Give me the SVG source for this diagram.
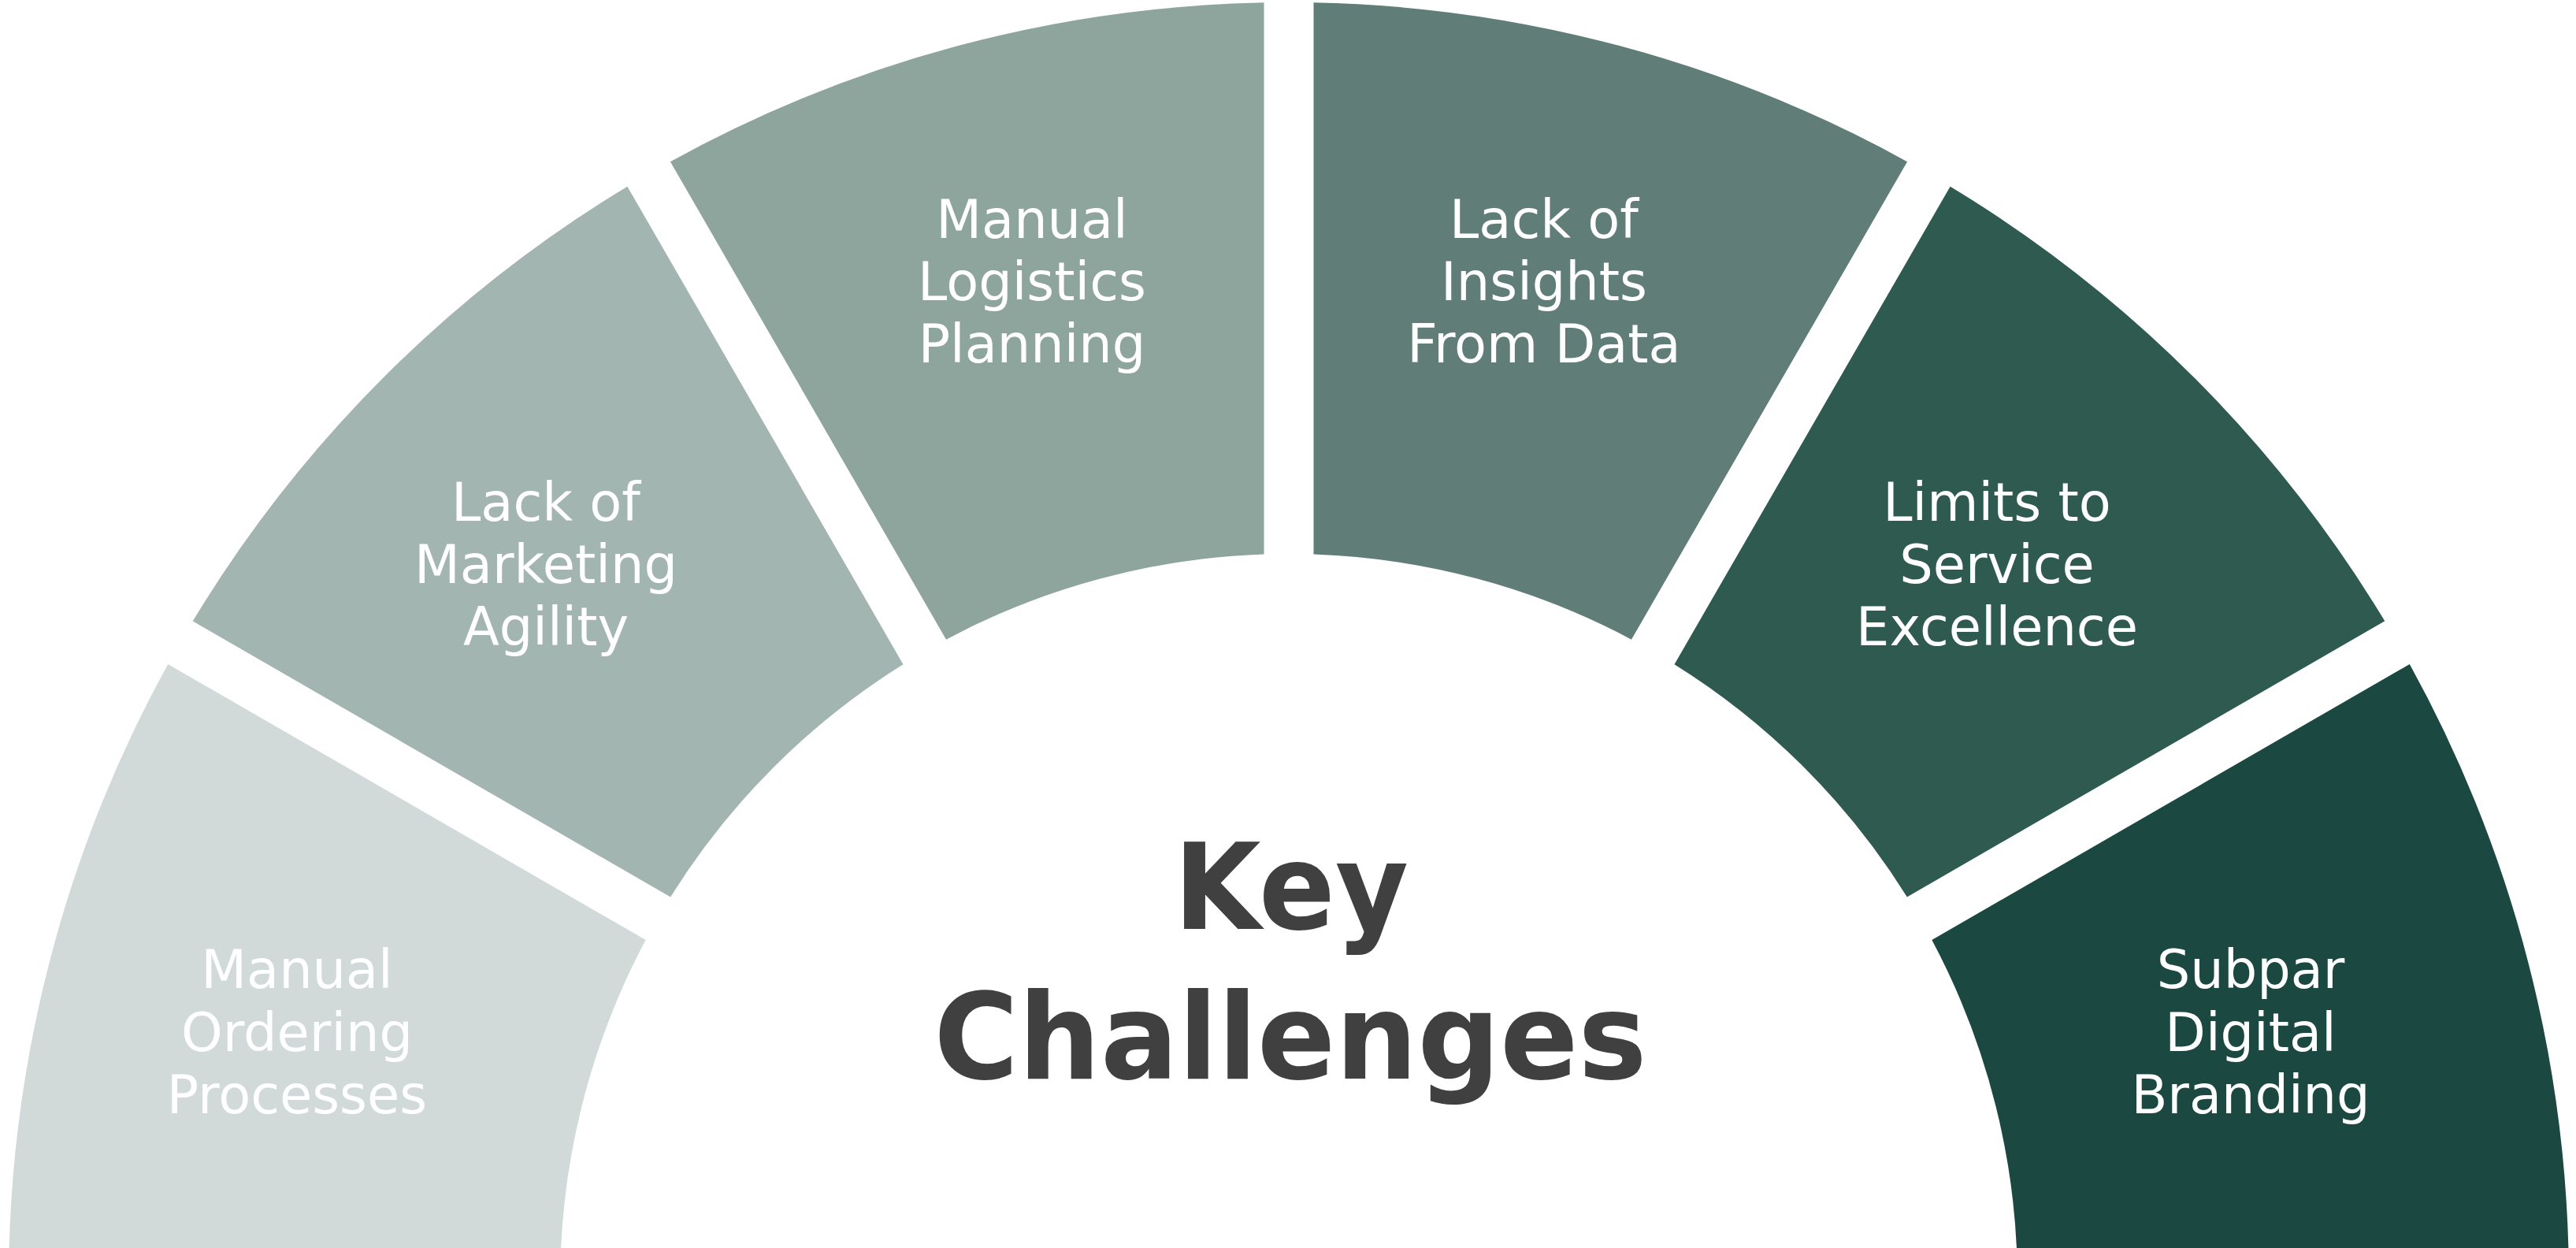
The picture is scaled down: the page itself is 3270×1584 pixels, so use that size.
<svg xmlns="http://www.w3.org/2000/svg" width="3270" height="1584" viewBox="0 0 3270 1584">
  <style>
    .lbl { font-family: "DejaVu Sans", "Liberation Sans", sans-serif; font-size: 67px; fill: #FFFFFF; text-anchor: middle; }
    .title { font-family: "DejaVu Sans", "Liberation Sans", sans-serif; font-size: 151px; font-weight: bold; fill: #404040; text-anchor: middle; }
  </style>
  <rect x="0" y="0" width="3270" height="1584" fill="#FFFFFF"/>
  <g id="connectors"></g>
  <g id="seg1">
    <path d="M 11 1628 A 1625 1625 0 0 1 213.22 842.93 L 819.64 1193.05 A 925 925 0 0 0 711 1628 Z" fill="#D1DAD8"/>
    <text class="lbl"><tspan x="377" y="1254">Manual</tspan><tspan x="377" y="1334">Ordering</tspan><tspan x="377" y="1413">Processes</tspan></text>
  </g>
  <g id="seg2">
    <path d="M 244.72 788.37 A 1625 1625 0 0 1 796.37 236.72 L 1146.49 843.14 A 925 925 0 0 0 851.14 1138.49 Z" fill="#A3B5B1"/>
    <text class="lbl"><tspan x="693" y="661">Lack of</tspan><tspan x="693" y="740">Marketing</tspan><tspan x="693" y="819">Agility</tspan></text>
  </g>
  <g id="seg3">
    <path d="M 850.93 205.22 A 1625 1625 0 0 1 1604.5 3.3 L 1604.5 703.54 A 925 925 0 0 0 1201.05 811.64 Z" fill="#8EA59E"/>
    <text class="lbl"><tspan x="1310" y="302">Manual</tspan><tspan x="1310" y="381">Logistics</tspan><tspan x="1310" y="460">Planning</tspan></text>
  </g>
  <g id="seg4">
    <path d="M 1667.5 3.3 A 1625 1625 0 0 1 2421.07 205.22 L 2070.95 811.64 A 925 925 0 0 0 1667.5 703.54 Z" fill="#607E77"/>
    <text class="lbl"><tspan x="1960" y="302">Lack of</tspan><tspan x="1960" y="381">Insights</tspan><tspan x="1960" y="460">From Data</tspan></text>
  </g>
  <g id="seg5">
    <path d="M 2475.63 236.72 A 1625 1625 0 0 1 3027.28 788.37 L 2420.86 1138.49 A 925 925 0 0 0 2125.51 843.14 Z" fill="#2F5A50"/>
    <text class="lbl"><tspan x="2535" y="661">Limits to</tspan><tspan x="2535" y="740">Service</tspan><tspan x="2535" y="819">Excellence</tspan></text>
  </g>
  <g id="seg6">
    <path d="M 3058.78 842.93 A 1625 1625 0 0 1 3261 1628 L 2561 1628 A 925 925 0 0 0 2452.36 1193.05 Z" fill="#1B4840"/>
    <text class="lbl"><tspan x="2857" y="1254">Subpar</tspan><tspan x="2857" y="1334">Digital</tspan><tspan x="2857" y="1413">Branding</tspan></text>
  </g>
  <g id="title">
    <text class="title" x="1639" y="1179" textLength="298" lengthAdjust="spacingAndGlyphs">Key</text>
    <text class="title" x="1638" y="1369" textLength="905" lengthAdjust="spacingAndGlyphs">Challenges</text>
  </g>
</svg>
